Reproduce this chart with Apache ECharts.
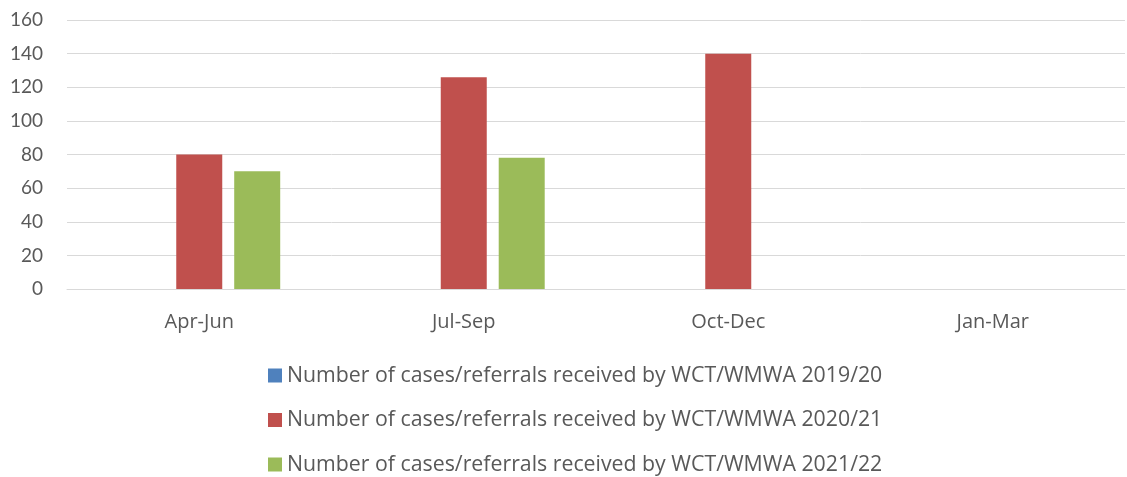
<!DOCTYPE html>
<html>
<head>
<meta charset="utf-8">
<script src="https://cdn.jsdelivr.net/npm/echarts@6/dist/echarts.min.js"></script>
<style>html,body{margin:0;padding:0;background:#fff}#c{width:1127px;height:477px}</style>
</head>
<body>
<div id="c"></div>
<script>
const categories = ['Apr-Jun', 'Jul-Sep', 'Oct-Dec', 'Jan-Mar'];
const seriesNames = [
  'Number of cases/referrals received by WCT/WMWA 2019/20',
  'Number of cases/referrals received by WCT/WMWA 2020/21',
  'Number of cases/referrals received by WCT/WMWA 2021/22'
];
const values2019 = [null, null, null, null];
const values2020 = [80, 126, 140, null];
const values2021 = [70, 78, null, null];
const colors = ['#4F81BD', '#C0504D', '#9BBB59'];

const FONT = 'Open Sans';
const chart = echarts.init(document.getElementById('c'), null, {renderer: 'canvas'});
const allValues = [values2019, values2020, values2021];
chart.setOption({
  animation: false,
  textStyle: {fontFamily: FONT},
  grid: {left: 67, right: 2, top: 20, bottom: 188, containLabel: false},
  legend: {
    orient: 'vertical',
    left: 268,
    top: 365,
    width: 700,
    height: 112,
    padding: 0,
    itemWidth: 14,
    itemHeight: 14,
    itemGap: 23.5,
    icon: 'rect',
    textStyle: {fontSize: 21.3, lineHeight: 21, color: '#595959', fontFamily: FONT, padding: [0, 0, 0, 0]},
    data: seriesNames
  },
  xAxis: {
    type: 'category',
    data: categories,
    axisLine: {lineStyle: {color: '#D9D9D9', width: 1}},
    axisTick: {show: false},
    axisLabel: {fontSize: 20, color: '#595959', margin: 23, fontFamily: FONT}
  },
  yAxis: {
    type: 'value',
    min: 0, max: 160, interval: 20,
    axisLine: {show: false},
    axisTick: {show: false},
    splitLine: {lineStyle: {color: '#D9D9D9', width: 1}},
    axisLabel: {fontSize: 19, color: '#595959', margin: 24, fontFamily: 'Lato'}
  },
  series: seriesNames.map((n, i) => ({
    name: n,
    type: 'bar',
    data: allValues[i],
    barWidth: 46,
    barGap: '26%',
    itemStyle: {color: colors[i]}
  }))
});
</script>
</body>
</html>
